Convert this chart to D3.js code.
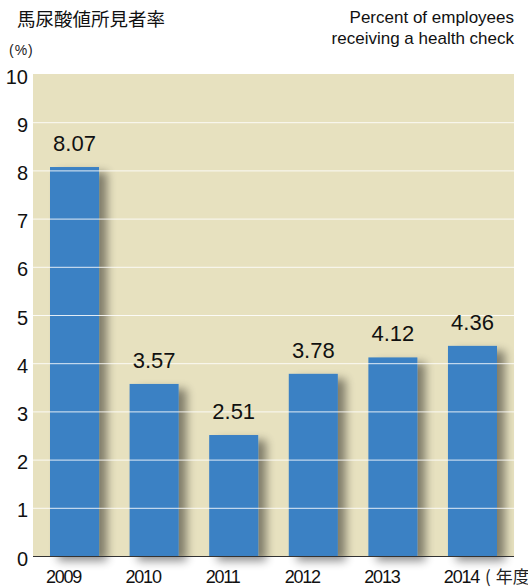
<!DOCTYPE html>
<html><head><meta charset="utf-8">
<script src="https://cdn.jsdelivr.net/npm/d3@7"></script>
<style>
html,body{margin:0;padding:0;background:#fff;overflow:hidden;}
svg{display:block;}
</style></head>
<body>
<svg id="chart" width="528" height="587"></svg>
<script>
const years = ["2009","2010","2011","2012","2013","2014"];
const values = [8.07, 3.57, 2.51, 3.78, 4.12, 4.36];
const valueLabels = ["8.07","3.57","2.51","3.78","4.12","4.36"];
const yTicks = [0,1,2,3,4,5,6,7,8,9,10];
const titleJa = "馬尿酸値所見者率";
const unitLabel = "(%)";
const titleEn = ["Percent of employees","receiving a health check"];
const xUnitParts = ["(", "年度)"];

const svg = d3.select("#chart");
const pL = 33, pR = 514, pT = 74, pB = 556;

const x = d3.scaleBand().domain(years).range([pL, pR]).paddingInner(0.384).paddingOuter(0.2136);
const y = d3.scaleLinear().domain([0, 10]).range([pB, pT]);

const defs = svg.append("defs");
const f = defs.append("filter").attr("id","shadow").attr("x","-20%").attr("y","-10%").attr("width","160%").attr("height","130%");
f.append("feGaussianBlur").attr("in","SourceAlpha").attr("stdDeviation",5).attr("result","blur");
f.append("feOffset").attr("in","blur").attr("dx",8).attr("dy",5).attr("result","off");
f.append("feComponentTransfer").attr("in","off").attr("result","sh")
  .append("feFuncA").attr("type","linear").attr("slope",0.45);
const m = f.append("feMerge");
m.append("feMergeNode").attr("in","sh");
m.append("feMergeNode").attr("in","SourceGraphic");

// background
svg.append("rect").attr("x", pL).attr("y", pT).attr("width", pR-pL).attr("height", pB-pT).attr("fill", "#e7e1bf");

// bars
svg.append("g").selectAll("rect").data(years).join("rect")
  .attr("x", d => x(d)).attr("width", x.bandwidth())
  .attr("y", (d,i) => y(values[i])).attr("height", (d,i) => y(0) - y(values[i]))
  .attr("fill", "#3b81c4").attr("filter","url(#shadow)");

// gridlines
svg.append("g").selectAll("line").data(yTicks.filter(t => t>0 && t<10)).join("line")
  .attr("x1", pL).attr("x2", pR).attr("y1", d => y(d)+0.5).attr("y2", d => y(d)+0.5)
  .attr("stroke", "#fff").attr("stroke-opacity", 0.85).attr("stroke-width", 1);

// baseline axis
svg.append("line").attr("x1", pL).attr("x2", pR).attr("y1", y(0)+0.5).attr("y2", y(0)+0.5)
  .attr("stroke", "#333").attr("stroke-width", 1.2);

// y axis labels
const yAxis = d3.axisLeft(y).tickValues(yTicks).tickSize(0).tickPadding(0).tickFormat(d3.format("d"));
const ga = svg.append("g").attr("transform", `translate(${pL-5},0)`).call(yAxis);
ga.select(".domain").remove();
ga.selectAll("text").attr("font-family","'Liberation Sans', Arial, sans-serif").attr("font-size",20)
  .attr("fill","#111").attr("dy","0.45em");

// x axis labels
const xAxis = d3.axisBottom(x).tickSize(0).tickPadding(0);
const gx = svg.append("g").attr("transform", `translate(-11,${pB})`).call(xAxis);
gx.select(".domain").remove();
gx.selectAll("text").attr("font-family","'Liberation Sans', Arial, sans-serif").attr("font-size",18)
  .attr("fill","#111").attr("dy",null).attr("y",27).attr("letter-spacing","-1.2");

// value labels
svg.append("g").selectAll("text").data(years).join("text")
  .attr("x", d => x(d) + x.bandwidth()/2)
  .attr("y", (d,i) => y(values[i]) - 16)
  .attr("text-anchor","middle")
  .attr("font-family","'Liberation Sans', Arial, sans-serif").attr("font-size",22).attr("fill","#111")
  .text((d,i) => valueLabels[i]);

// titles
svg.append("text").attr("x",17).attr("y",26).attr("font-family","'Noto Sans CJK JP', sans-serif")
  .attr("font-size",18.5).attr("fill","#111").text(titleJa);
svg.append("text").attr("x",9).attr("y",55).attr("font-family","'Liberation Sans', Arial, sans-serif")
  .attr("font-size",14).attr("fill","#222").attr("letter-spacing","1").text(unitLabel);
svg.append("g").selectAll("text").data(titleEn).join("text")
  .attr("x",514).attr("y",(d,i) => 23 + i*21).attr("text-anchor","end")
  .attr("font-family","'Liberation Sans', Arial, sans-serif").attr("font-size",17).attr("fill","#111")
  .text(d => d);
const xu = svg.append("text").attr("x",485).attr("y",583).attr("font-family","'Noto Sans CJK JP', sans-serif")
  .attr("font-size",17).attr("fill","#222");
xu.append("tspan").text(xUnitParts[0]);
xu.append("tspan").attr("dx",5).text(xUnitParts[1]);
</script>
</body></html>
